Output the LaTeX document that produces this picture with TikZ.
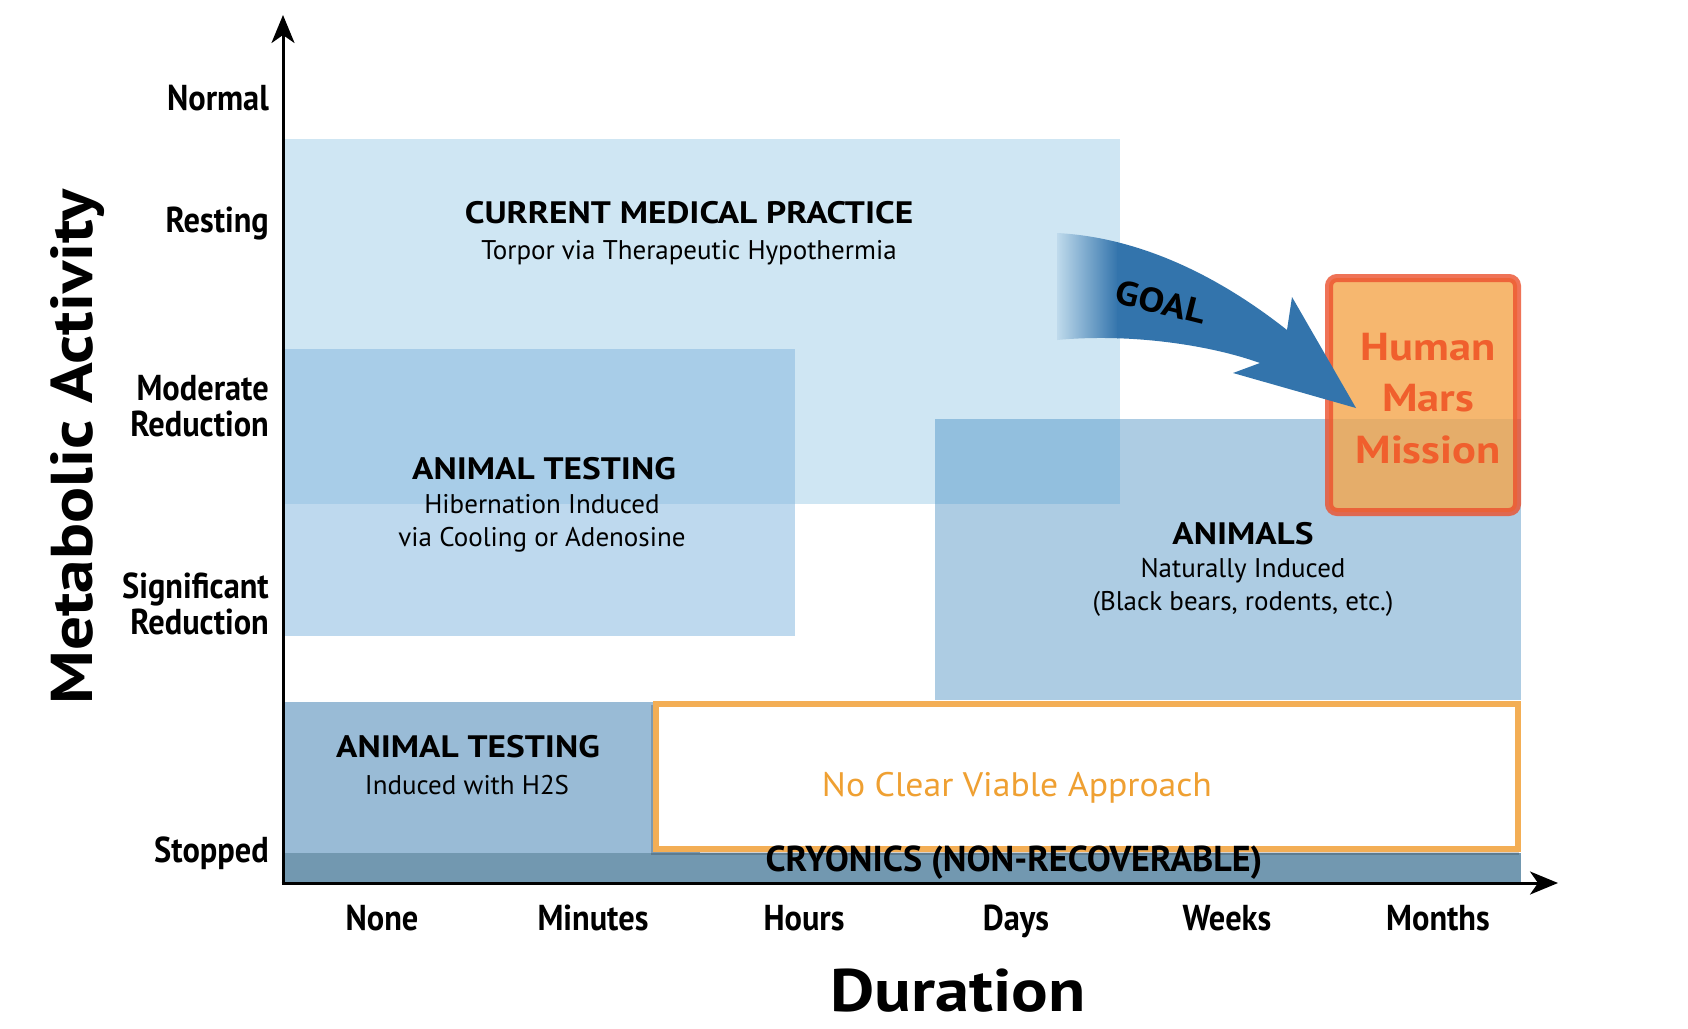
\documentclass[tikz,border=0pt]{standalone}
\usepackage{fontspec}
\setmainfont{PT Sans}
\newfontfamily\condfont[FakeStretch=0.9]{PT Sans}
\newfontfamily\widefont[FakeStretch=1.14]{PT Sans}
\newfontfamily\nvfont[FakeStretch=1.05]{PT Sans}
\usetikzlibrary{arrows.meta}
\definecolor{medblue}{RGB}{207,230,243}
\definecolor{hibblue}{RGB}{190,217,238}
\definecolor{medhib}{RGB}{168,205,232}
\definecolor{anblue}{RGB}{173,204,227}
\definecolor{medan}{RGB}{146,191,222}
\definecolor{htwosblue}{RGB}{153,187,214}
\definecolor{cryoblue}{RGB}{114,152,176}
\definecolor{goalblue}{RGB}{51,116,172}
\definecolor{nvborder}{RGB}{243,174,85}
\definecolor{nvtext}{RGB}{239,160,50}
\definecolor{marsfill}{RGB}{244,166,76}
\definecolor{marsdraw}{RGB}{236,80,45}
\definecolor{marstext}{RGB}{240,95,45}
\begin{document}
\begin{tikzpicture}[x=1pt,y=-1pt,
  ylab/.style={anchor=base east, inner sep=0pt, align=right, font=\condfont\bfseries\fontsize{36}{35.5}\selectfont},
  xlab/.style={anchor=base, inner sep=0pt, font=\condfont\bfseries\fontsize{36}{36}\selectfont},
  boxtitle/.style={anchor=base, inner sep=0pt, font=\widefont\bfseries\fontsize{31}{31}\selectfont},
  boxsub/.style={anchor=base, inner sep=0pt, font=\fontsize{27}{33}\selectfont},
  axisline/.style={line width=3pt, -{Stealth[length=28pt,width=23pt,inset=8pt]}}
]
\useasboundingbox[fill=white] (0,0) rectangle (1688,1028);

% regions
\fill[medblue] (285,139) rectangle (1120,504);
\fill[hibblue] (285,349) rectangle (795,636);
\fill[medhib] (285,349) rectangle (795,504);
\fill[anblue] (935,419) rectangle (1521,700);
\fill[medan] (935,419) rectangle (1120,504);
\fill[htwosblue] (285,702) rectangle (700,853);
\fill[cryoblue] (285,853) rectangle (1521,883);

% no clear viable approach box
\fill[black, opacity=0.18] (651,705) rectangle (1519,855);
\draw[nvborder, line width=6pt, fill=white] (656,704) rectangle (1518,849);

% Mars box
\draw[marsdraw, fill=marsfill, line width=8pt, rounded corners=8pt, opacity=0.8] (1329,278) rectangle (1517,512);

% texts in regions
\node[boxtitle] (cmp) at (689,223) {CURRENT MEDICAL PRACTICE};
\node[boxsub] (cmpsub) at (689,259) {Torpor via Therapeutic Hypothermia};
\node[boxtitle] (at1) at (544,479) {ANIMAL TESTING};
\node[boxsub, align=center] (at1sub) at (542,546) {Hibernation Induced\\via Cooling or Adenosine};
\node[boxtitle] (anim) at (1243,544) {ANIMALS};
\node[boxsub, align=center] (animsub) at (1243,610) {Naturally Induced\\(Black bears, rodents, etc.)};
\node[boxtitle] (at2) at (468,757) {ANIMAL TESTING};
\node[boxsub] (at2sub) at (467,794) {Induced with H2S};
\node[anchor=base, inner sep=0pt, text=nvtext, font=\nvfont\fontsize{34}{34}\selectfont] (nocl) at (1017,796) {No Clear Viable Approach};
\node[anchor=base, inner sep=0pt, font=\bfseries\fontsize{36}{36}\selectfont] (cryo) at (1014,871) {CRYONICS (NON-RECOVERABLE)};
\node[anchor=base, inner sep=0pt, align=center, text=marstext, font=\widefont\bfseries\fontsize{39}{51.5}\selectfont] (mars) at (1428,463) {Human\\Mars\\Mission};

% GOAL arrow
\begin{scope}
\clip (1057,233) .. controls (1150,238) and (1230,285) .. (1287,330) -- (1292,297) -- (1356,408) -- (1233,373) -- (1260,363) .. controls (1210,345) and (1130,333) .. (1057,340) -- cycle;
\shade[left color=medblue, right color=goalblue] (1050,220) rectangle (1118,420);
\fill[goalblue] (1117,220) rectangle (1400,420);
\end{scope}
\node[inner sep=0pt, rotate=-14, font=\widefont\bfseries\fontsize{34}{34}\selectfont] (goal) at (1161,302) {GOAL};

% axes
\coordinate (O) at (283,883);
\coordinate (ytop) at (283,15);
\coordinate (xend) at (1558,883);
\draw[axisline] (283,884.5) -- (ytop);
\draw[axisline] (281.5,883) -- (xend);

% axis labels
\node[ylab] (normal) at (269,110) {Normal};
\node[ylab] (resting) at (269,232) {Resting};
\node[ylab] (moderate) at (269,436) {Moderate\\Reduction};
\node[ylab] (signif) at (269,634) {Significant\\Reduction};
\node[ylab] (stopped) at (269,862) {Stopped};

\node[xlab] (none) at (382,930) {None};
\node[xlab] (minutes) at (593,930) {Minutes};
\node[xlab] (hours) at (804,930) {Hours};
\node[xlab] (days) at (1016,930) {Days};
\node[xlab] (weeks) at (1227,930) {Weeks};
\node[xlab] (months) at (1438,930) {Months};

\node[anchor=base, inner sep=0pt, font=\widefont\bfseries\fontsize{60}{60}\selectfont] (duration) at (958,1011) {Duration};
\node[anchor=base, inner sep=0pt, rotate=90, font=\widefont\bfseries\fontsize{59}{59}\selectfont] (metab) at (92,447) {Metabolic Activity};
\end{tikzpicture}
\end{document}
